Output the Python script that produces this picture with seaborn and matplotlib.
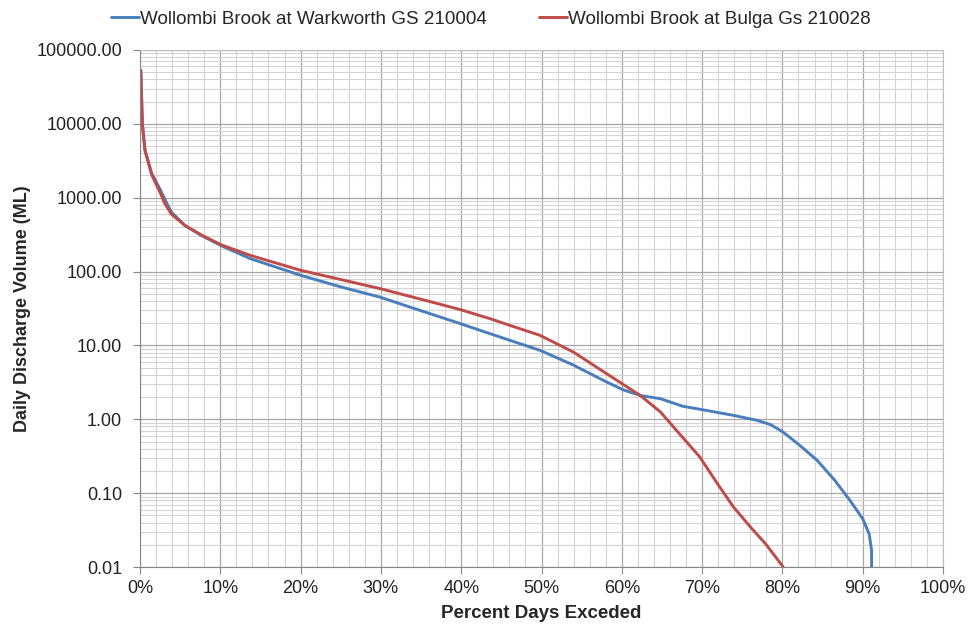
import pandas as pd
import numpy as np
import matplotlib
matplotlib.use("Agg")
import matplotlib.pyplot as plt
import matplotlib.ticker as mticker
import seaborn as sns

# flow duration curves (percent of days, ML/day)
warkworth_pct = [0.1, 0.3, 0.62, 1.45, 2.5, 3.1, 3.9, 5.6, 7.7, 10.2, 13.7, 20, 25, 29.9, 34,
                 37.4, 39.9, 43.6, 46.5, 49.8, 54, 58.1, 60.2, 62.3, 64.8, 67.6, 70, 73.9,
                 76.8, 78.5, 80.1, 82.2, 84.3, 86.5, 88.4, 90, 90.8, 91.1, 91.1]
warkworth_ml = [53000, 10000, 4400, 2150, 1300, 950, 640, 420, 305, 222, 150, 89, 62, 45, 32,
                24.2, 19.7, 14.4, 11.3, 8.6, 5.4, 3.2, 2.5, 2.1, 1.9, 1.5, 1.35, 1.13,
                0.97, 0.85, 0.67, 0.44, 0.28, 0.15, 0.08, 0.045, 0.028, 0.017, 0.01]

bulga_pct = [0.1, 0.3, 0.62, 1.45, 2.5, 3.1, 3.9, 5.6, 7.7, 10.2, 13.7, 20, 25, 29.9, 34, 37.4,
             39.9, 43.6, 46.5, 49.8, 54, 58.1, 62.3, 64.8, 67, 69.7, 72, 73.9, 76, 78, 80.1]
bulga_ml = [53000, 10000, 4400, 2050, 1180, 830, 600, 420, 310, 228, 166, 104, 78, 58.7, 45,
            36, 30.5, 23, 18, 13.7, 8.1, 4.15, 2.1, 1.26, 0.67, 0.31, 0.13, 0.065, 0.035,
            0.02, 0.01]

series_names = ["Wollombi Brook at Warkworth GS 210004", "Wollombi Brook at Bulga Gs 210028"]
colors = ["#4a7ebb", "#be4b48"]
x_ticks = [0, 10, 20, 30, 40, 50, 60, 70, 80, 90, 100]
y_ticks = [0.01, 0.1, 1, 10, 100, 1000, 10000, 100000]

df = pd.concat([
    pd.DataFrame({"pct": warkworth_pct, "ml": warkworth_ml, "site": series_names[0]}),
    pd.DataFrame({"pct": bulga_pct, "ml": bulga_ml, "site": series_names[1]}),
])

sns.set_theme(style="whitegrid")
plt.rcParams["font.family"] = ["Liberation Sans", "DejaVu Sans"]

fig = plt.figure(figsize=(9.7, 6.24), dpi=100)
ax = fig.add_axes([0.1443, 0.0913, 0.8279, 0.8287])

sns.lineplot(data=df, x="pct", y="ml", hue="site", palette=colors, estimator=None,
             sort=False, linewidth=2.1, ax=ax, legend=True)

ax.set_yscale("log")
ax.set_xlim(0, 100)
ax.set_ylim(0.01, 100000)

# minor grid: every 2% across, 2..9 within each decade up the log axis
y_minor = [m * d for d in y_ticks[:-1] for m in range(2, 10)]
ax.xaxis.set_major_locator(mticker.FixedLocator(x_ticks))
ax.xaxis.set_minor_locator(mticker.FixedLocator(np.arange(0, 101, 2)))
ax.xaxis.set_major_formatter(mticker.FuncFormatter(lambda v, p: f"{v:.0f}%"))
ax.yaxis.set_major_locator(mticker.FixedLocator(y_ticks))
ax.yaxis.set_minor_locator(mticker.FixedLocator(y_minor))
ax.yaxis.set_major_formatter(mticker.FuncFormatter(lambda v, p: f"{v:.2f}"))
ax.yaxis.set_minor_formatter(mticker.NullFormatter())

ax.grid(which="major", color="#a6a6a6", linewidth=0.9)
ax.grid(which="minor", color="#d4d4d4", linewidth=0.8)
ax.set_axisbelow(True)
for s in ax.spines.values():
    s.set_color("#bfbfbf")
    s.set_linewidth(0.8)
ax.spines["left"].set_color("#868686")
ax.spines["bottom"].set_color("#868686")

ax.tick_params(axis="both", which="major", labelsize=13, colors="#222222",
               length=5, width=0.8, direction="out")
ax.tick_params(axis="both", which="major", color="#868686")
ax.tick_params(axis="y", which="major", pad=8)
ax.tick_params(axis="x", which="major", pad=4)
ax.tick_params(axis="both", which="minor", length=0)
ax.tick_params(axis="x", bottom=True)
ax.tick_params(axis="y", left=True)

ax.set_xlabel("Percent Days Exceded", fontsize=13.5, fontweight="bold", labelpad=6)
ax.set_ylabel("Daily Discharge Volume (ML)", fontsize=13, fontweight="bold", labelpad=4)

handles, labels = ax.get_legend_handles_labels()
ax.legend_.remove()
fig.legend(handles, labels, loc="upper center", bbox_to_anchor=(0.506, 1.01), ncol=2,
           frameon=False, fontsize=13.6, handlelength=1.45, handletextpad=0.05,
           columnspacing=2.8)

fig.savefig("out.png", dpi=100, facecolor="white")
